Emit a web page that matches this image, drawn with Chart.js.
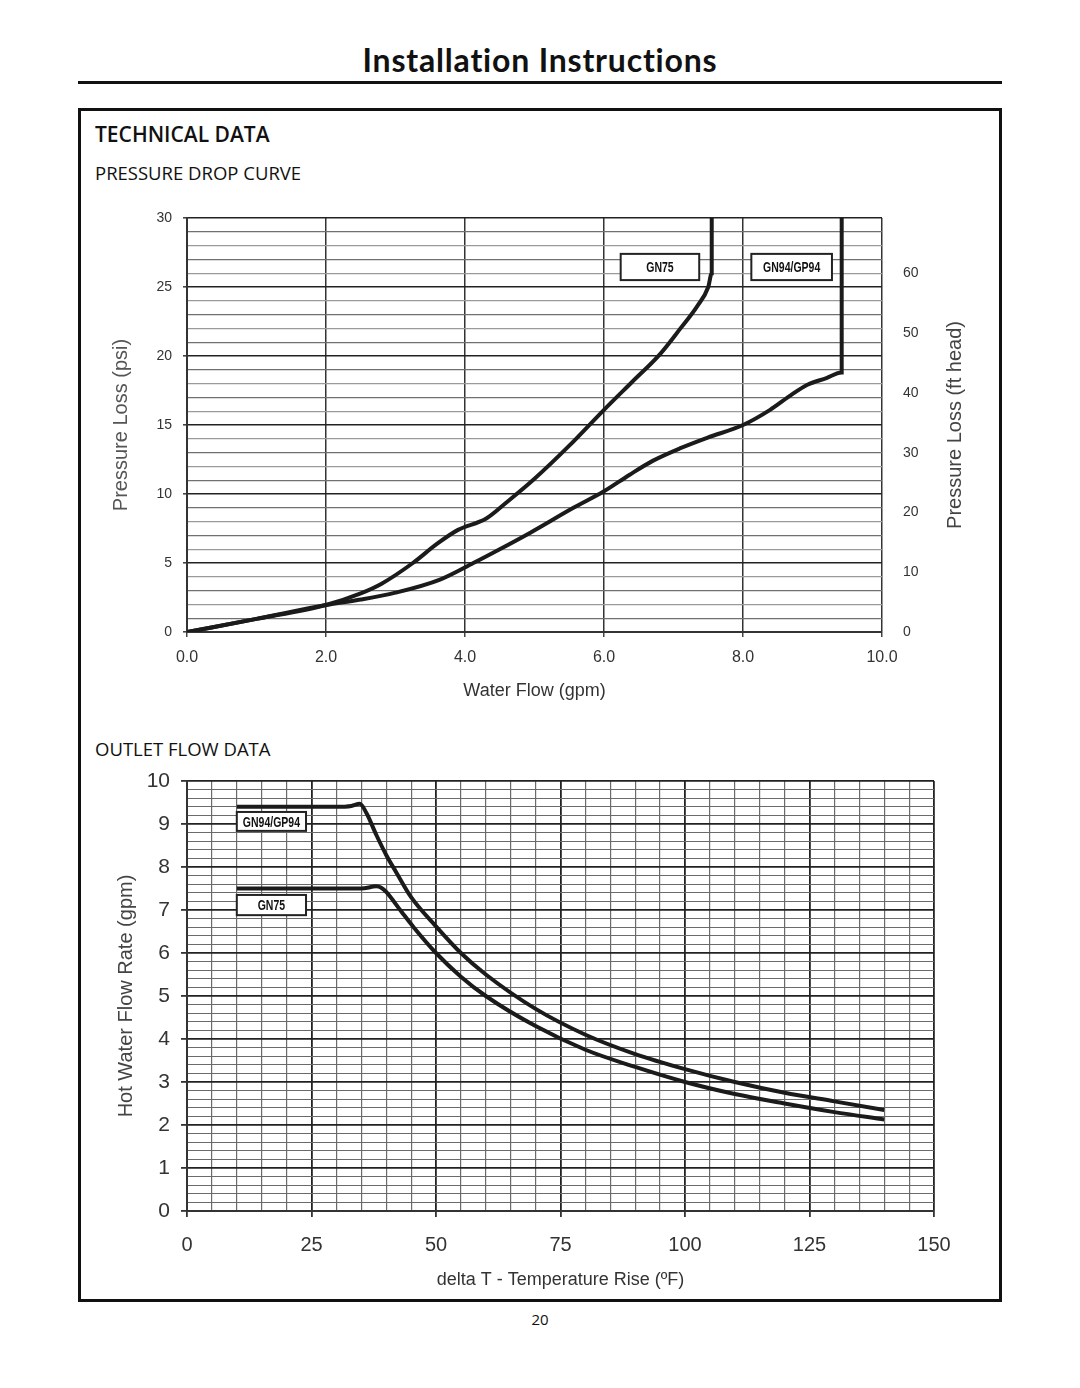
<!DOCTYPE html>
<html>
<head>
<meta charset="utf-8">
<script src="https://cdn.jsdelivr.net/npm/chart.js@4.4.0/dist/chart.umd.min.js"></script>
<style>
body { margin: 0; background: #fff; }
#page { position: relative; width: 1080px; height: 1388px; background: #fff; font-family: 'Open Sans', sans-serif; color: #111; }
#title { position: absolute; left: 0; width: 1080px; top: 40px; text-align: center; font-family: Lato, sans-serif; font-weight: 700; font-size: 32px; letter-spacing: 0.8px; }
#rule { position: absolute; left: 78px; top: 81px; width: 924px; height: 3px; background: #111; }
#frame { position: absolute; left: 78px; top: 108px; width: 918px; height: 1188px; border: 3px solid #111; }
.head { position: absolute; left: 95px; font-family: 'Open Sans', sans-serif; font-weight: 500; }
#h1 { top: 120px; font-size: 21px; font-weight: 600; }
#h2 { top: 160px; font-size: 18.5px; }
#h3 { top: 736px; font-size: 18.5px; }
#pageno { position: absolute; left: 0; width: 1080px; top: 1309px; text-align: center; font-size: 15px; }
canvas { position: absolute; }
#pressure { left: 80px; top: 200px; }
#outlet { left: 80px; top: 760px; }
</style>
</head>
<body>
<div id="page">
  <div id="title">Installation Instructions</div>
  <div id="rule"></div>
  <div id="frame"></div>
  <div class="head" id="h1">TECHNICAL DATA</div>
  <div class="head" id="h2">PRESSURE DROP CURVE</div>
  <div class="head" id="h3">OUTLET FLOW DATA</div>
  <canvas id="pressure" width="920" height="510"></canvas>
  <canvas id="outlet" width="920" height="540"></canvas>
  <div id="pageno">20</div>
</div>
<script>
// pressure drop curve (gpm -> psi)
const flowGN75 = [0, 1.0, 2.0, 2.5, 2.8, 3.25, 3.6, 3.9, 4.3, 4.6, 5.0, 5.5, 6.0, 6.4, 6.8, 7.1, 7.34, 7.5, 7.55, 7.55];
const psiGN75 = [0, 0.95, 1.96, 2.8, 3.5, 5.0, 6.4, 7.4, 8.2, 9.4, 11.1, 13.5, 16.1, 18.1, 20.1, 22.0, 23.6, 25.0, 26.0, 30];
const flowGN94 = [0, 1.0, 2.0, 2.5, 3.0, 3.64, 4.12, 4.5, 4.94, 5.56, 6.0, 6.37, 6.7, 7.09, 7.5, 8.0, 8.39, 8.7, 8.92, 9.2, 9.42, 9.42];
const psiGN94 = [0, 0.95, 1.96, 2.35, 2.85, 3.8, 5.0, 6.0, 7.2, 9.0, 10.2, 11.4, 12.4, 13.3, 14.1, 15.0, 16.1, 17.2, 17.9, 18.4, 18.8, 30];

// outlet flow data (temperature rise F -> gpm)
const riseGN94 = [10, 20, 30, 33, 34.7, 36, 38, 40, 42, 45, 50, 55, 60, 70, 80, 90, 100, 110, 120, 130, 140];
const rateGN94 = [9.4, 9.4, 9.4, 9.42, 9.47, 9.26, 8.75, 8.28, 7.88, 7.3, 6.62, 6.0, 5.5, 4.7, 4.1, 3.65, 3.3, 3.0, 2.75, 2.55, 2.35];
const riseGN75 = [10, 20, 30, 35, 38, 39, 40, 43, 45.5, 50, 55, 60, 70, 80, 90, 100, 110, 120, 130, 140];
const rateGN75 = [7.5, 7.5, 7.5, 7.5, 7.55, 7.52, 7.42, 6.97, 6.6, 6.0, 5.45, 5.0, 4.3, 3.75, 3.35, 3.0, 2.72, 2.5, 2.3, 2.13];

// tick labels
const flowTicks = [0, 2, 4, 6, 8, 10];
const psiLabels = [0, 5, 10, 15, 20, 25, 30];
const headLabels = [0, 10, 20, 30, 40, 50, 60];
const riseLabels = [0, 25, 50, 75, 100, 125, 150];
const rateLabels = [0, 1, 2, 3, 4, 5, 6, 7, 8, 9, 10];

const PSI_TO_FT = 2.31;
const psiGrid = [];
for (let v = 0; v <= 30; v++) psiGrid.push(v);
const riseGrid = [];
for (let v = 0; v <= 150; v += 5) riseGrid.push(v);
const rateGrid = [];
for (let i = 0; i <= 50; i++) rateGrid.push(Math.round(i * 2) / 10);

const pts = (xs, ys) => xs.map((x, i) => ({ x: x, y: ys[i] }));
const isMajor = (v, step) => Math.abs(v / step - Math.round(v / step)) < 1e-6;
const tickFont = (size) => ({ family: "'Liberation Sans', Arial, sans-serif", size: size });
const noPad = s => { s.paddingTop = 0; s.paddingBottom = 0; s.paddingLeft = 0; s.paddingRight = 0; };

const curve = (data) => ({
  data: data,
  showLine: true,
  pointRadius: 0,
  borderWidth: 4,
  borderColor: '#1b1b1b',
  cubicInterpolationMode: 'monotone',
  fill: false
});

// white boxes with model names + optional rotated right title
const boxLabels = {
  id: 'boxLabels',
  afterDatasetsDraw(chart, args, opts) {
    const ctx = chart.ctx;
    const x = chart.scales.x, y = chart.scales.y;
    ctx.save();
    (opts.boxes || []).forEach(b => {
      const x0 = x.getPixelForValue(b.x0), x1 = x.getPixelForValue(b.x1);
      const y0 = y.getPixelForValue(b.y0), y1 = y.getPixelForValue(b.y1);
      ctx.fillStyle = '#fff';
      ctx.fillRect(x0, y0, x1 - x0, y1 - y0);
      ctx.lineWidth = 2;
      ctx.strokeStyle = '#222';
      ctx.strokeRect(x0, y0, x1 - x0, y1 - y0);
      ctx.save();
      ctx.translate((x0 + x1) / 2, (y0 + y1) / 2 + 1);
      ctx.scale(0.7, 1);
      ctx.fillStyle = '#111';
      ctx.font = "bold 15px 'Liberation Sans', Arial, sans-serif";
      ctx.textAlign = 'center';
      ctx.textBaseline = 'middle';
      ctx.fillText(b.text, 0, 0);
      ctx.restore();
    });
    if (opts.rightTitle) {
      const ca = chart.chartArea;
      ctx.translate(opts.rightTitleX, (ca.top + ca.bottom) / 2);
      ctx.rotate(-Math.PI / 2);
      ctx.fillStyle = '#444';
      ctx.font = "20px 'Liberation Sans', Arial, sans-serif";
      ctx.textAlign = 'center';
      ctx.textBaseline = 'middle';
      ctx.fillText(opts.rightTitle, 0, 0);
    }
    ctx.restore();
  }
};

new Chart(document.getElementById('pressure'), {
  type: 'scatter',
  data: {
    datasets: [curve(pts(flowGN75, psiGN75)), curve(pts(flowGN94, psiGN94))]
  },
  options: {
    responsive: false,
    animation: false,
    layout: { padding: { top: 18, right: 0, left: 0, bottom: 0 } },
    plugins: {
      legend: { display: false },
      tooltip: { enabled: false },
      boxLabels: {
        boxes: [
          { text: 'GN75', x0: 6.24, x1: 7.37, y0: 27.4, y1: 25.5 },
          { text: 'GN94/GP94', x0: 8.12, x1: 9.28, y0: 27.4, y1: 25.5 }
        ],
        rightTitle: 'Pressure Loss (ft head)',
        rightTitleX: 875
      }
    },
    scales: {
      x: {
        type: 'linear', min: 0, max: 10,
        afterBuildTicks: s => { s.ticks = flowTicks.map(v => ({ value: v })); },
        afterFit: s => { s.height = 78; noPad(s); },
        ticks: { autoSkip: false, maxRotation: 0, padding: 11, color: '#333', font: tickFont(16),
          callback: v => v.toFixed(1) },
        grid: { color: '#333', lineWidth: 1.5, tickLength: 5, tickColor: '#444' },
        border: { color: '#333', width: 2 },
        title: { display: true, text: 'Water Flow (gpm)', color: '#333',
          font: { family: "'Liberation Sans', Arial, sans-serif", size: 18 }, padding: { top: 0, bottom: 8 } }
      },
      y: {
        type: 'linear', min: 0, max: 30, position: 'left',
        afterBuildTicks: s => { s.ticks = psiGrid.map(v => ({ value: v })); },
        afterFit: s => { s.width = 107; noPad(s); },
        ticks: { autoSkip: false, padding: 11, color: '#333', font: tickFont(14),
          callback: v => psiLabels.includes(v) ? String(v) : '' },
        grid: {
          color: c => isMajor(c.tick.value, 5) ? '#222' : (c.tick.value % 2 ? '#707070' : '#9a9a9a'),
          lineWidth: c => isMajor(c.tick.value, 5) ? 1.6 : 1.2,
          tickLength: 4,
          tickColor: c => isMajor(c.tick.value, 5) ? '#444' : 'rgba(0,0,0,0)'
        },
        border: { color: '#333', width: 2 },
        title: { display: true, text: 'Pressure Loss (psi)', color: '#555',
          font: { family: "'Liberation Sans', Arial, sans-serif", size: 20 }, padding: { top: 29, bottom: 0 } }
      },
      yHead: {
        type: 'linear', min: 0, max: 30 * PSI_TO_FT, position: 'right',
        afterBuildTicks: s => { s.ticks = headLabels.map(v => ({ value: v })); },
        afterFit: s => { s.width = 118; noPad(s); },
        ticks: { autoSkip: false, padding: 21, color: '#333', font: tickFont(14) },
        grid: { display: false, drawTicks: false },
        border: { display: false }
      }
    }
  },
  plugins: [boxLabels]
});

new Chart(document.getElementById('outlet'), {
  type: 'scatter',
  data: {
    datasets: [curve(pts(riseGN94, rateGN94)), curve(pts(riseGN75, rateGN75))]
  },
  options: {
    responsive: false,
    animation: false,
    layout: { padding: { top: 21, right: 66, left: 0, bottom: 0 } },
    plugins: {
      legend: { display: false },
      tooltip: { enabled: false },
      boxLabels: {
        boxes: [
          { text: 'GN94/GP94', x0: 10, x1: 23.9, y0: 9.28, y1: 8.84 },
          { text: 'GN75', x0: 10, x1: 23.9, y0: 7.35, y1: 6.88 }
        ]
      }
    },
    scales: {
      x: {
        type: 'linear', min: 0, max: 150,
        afterBuildTicks: s => { s.ticks = riseGrid.map(v => ({ value: v })); },
        afterFit: s => { s.height = 89; noPad(s); },
        ticks: { autoSkip: false, maxRotation: 0, padding: 16, color: '#333', font: tickFont(20),
          callback: v => riseLabels.includes(v) ? String(v) : '' },
        grid: {
          color: c => isMajor(c.tick.value, 25) ? '#222' : '#6a6a6a',
          lineWidth: c => isMajor(c.tick.value, 25) ? 1.8 : 1.2,
          tickLength: 6,
          tickColor: c => isMajor(c.tick.value, 25) ? '#333' : 'rgba(0,0,0,0)'
        },
        border: { color: '#333', width: 2 },
        title: { display: true, text: 'delta T - Temperature Rise (ºF)', color: '#333',
          font: { family: "'Liberation Sans', Arial, sans-serif", size: 18 }, padding: { top: 0, bottom: 9 } }
      },
      y: {
        type: 'linear', min: 0, max: 10,
        afterBuildTicks: s => { s.ticks = rateGrid.map(v => ({ value: v })); },
        afterFit: s => { s.width = 107; noPad(s); },
        ticks: { autoSkip: false, padding: 11, color: '#333', font: tickFont(21),
          callback: v => isMajor(v, 1) && rateLabels.includes(Math.round(v)) ? String(Math.round(v)) : '' },
        grid: {
          color: c => isMajor(c.tick.value, 1) ? '#222' : '#6a6a6a',
          lineWidth: c => isMajor(c.tick.value, 1) ? 1.8 : 1.1,
          tickLength: 6,
          tickColor: c => isMajor(c.tick.value, 1) ? '#333' : 'rgba(0,0,0,0)'
        },
        border: { color: '#333', width: 2 },
        title: { display: true, text: 'Hot Water Flow Rate (gpm)', color: '#444',
          font: { family: "'Liberation Sans', Arial, sans-serif", size: 20 }, padding: { top: 34, bottom: 0 } }
      }
    }
  },
  plugins: [boxLabels]
});
</script>
</body>
</html>
